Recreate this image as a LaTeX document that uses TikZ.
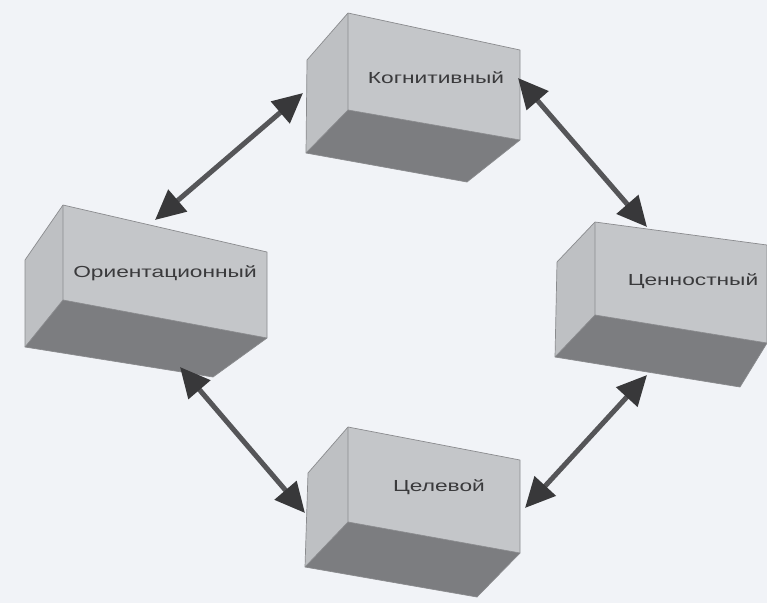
\documentclass[tikz,border=0pt]{standalone}
\usepackage{fontspec}
\newfontfamily\labfont[FakeStretch=1.42]{Liberation Sans}
\usetikzlibrary{arrows.meta}
\definecolor{bgcol}{HTML}{F1F3F7}
\definecolor{frontcol}{HTML}{C4C6C9}
\definecolor{leftcol}{HTML}{BEC0C3}
\definecolor{bottomcol}{HTML}{7C7D80}
\definecolor{edgecol}{HTML}{8A8B8E}
\definecolor{txtcol}{HTML}{3A3A3C}
\definecolor{shaftcol}{HTML}{555558}
\definecolor{headcol}{HTML}{38383A}
\tikzset{
  frontface/.style={fill=frontcol},
  leftface/.style={fill=leftcol},
  bottomface/.style={fill=bottomcol},
  cubeedge/.style={draw=edgecol, line width=0.7pt, line join=round},
  lab/.style={text=txtcol, font=\labfont\fontsize{16}{19}\selectfont, inner sep=0pt},
  dbl/.style={draw=shaftcol, line width=5pt,
    {Triangle[length=30pt,width=28pt,color=headcol]}-{Triangle[length=30pt,width=28pt,color=headcol]}}
}
% #1 front TL, #2 front TR, #3 front BR, #4 front BL, #5 left back top, #6 left back bottom, #7 bottom back right
\newcommand\drawcube[7]{%
  \fill[leftface] (#5) -- (#1) -- (#4) -- (#6) -- cycle;
  \fill[frontface] (#1) -- (#2) -- (#3) -- (#4) -- cycle;
  \fill[bottomface] (#6) -- (#4) -- (#3) -- (#7) -- cycle;
  \draw[cubeedge] (#5) -- (#1) -- (#2) -- (#3) -- (#7) -- (#6) -- cycle;
  \draw[cubeedge] (#1) -- (#4) -- (#3);
  \draw[cubeedge] (#4) -- (#6);
}
\begin{document}
\begin{tikzpicture}[x=1pt,y=-1pt]
\useasboundingbox (0,0) rectangle (767,603);
\fill[bgcol] (0,0) rectangle (767,603);

% boxes
\drawcube{348,13}{520,50}{520,140}{348,110}{307,60}{306,153}{467,182}
\drawcube{63,205}{267,252}{267,338}{63,300}{25,260}{25,347}{213,377}
\drawcube{595,222}{767,245}{767,343}{595,315}{557,262}{555,357}{740,387}
\drawcube{348,427}{520,460}{520,553}{348,522}{308,473}{305,567}{477,597}

% labels
\node[lab] (kog) at (436,78) {Когнитивный};
\node[lab] (ori) at (165,273) {Ориентационный};
\node[lab] (cen) at (693,281) {Ценностный};
\node[lab] (cel) at (439,487) {Целевой};

% arrow ends
\coordinate (oriTop) at (155,220);
\coordinate (kogLeft) at (303,93);
\coordinate (kogRight) at (518,78);
\coordinate (cenTop) at (647,227);
\coordinate (oriBot) at (180,367);
\coordinate (celLeft) at (305,513);
\coordinate (cenBot) at (647,375);
\coordinate (celRight) at (525,508);

\draw[dbl] (oriTop) -- (kogLeft);
\draw[dbl] (kogRight) -- (cenTop);
\draw[dbl] (oriBot) -- (celLeft);
\draw[dbl] (celRight) -- (cenBot);
\end{tikzpicture}
\end{document}
